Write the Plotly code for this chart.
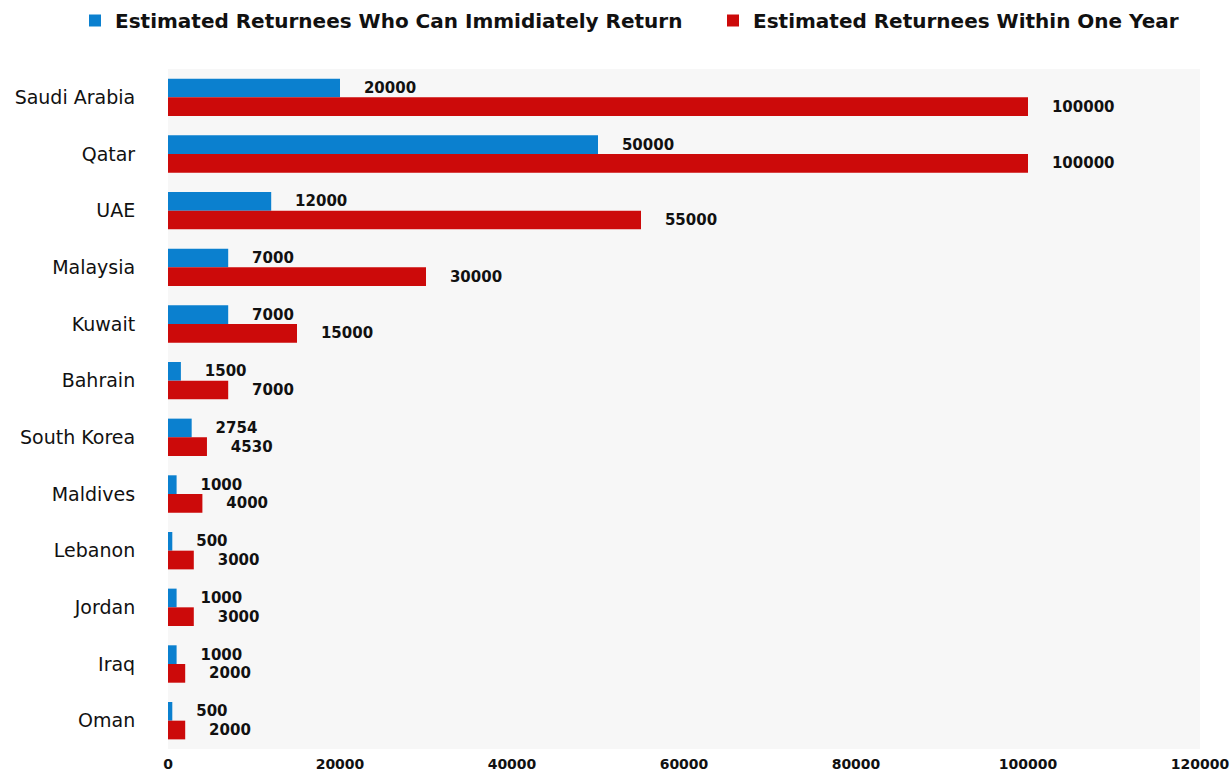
import plotly.graph_objects as go

countries = ["Saudi Arabia", "Qatar", "UAE", "Malaysia", "Kuwait", "Bahrain",
             "South Korea", "Maldives", "Lebanon", "Jordan", "Iraq", "Oman"]
immediate = [20000, 50000, 12000, 7000, 7000, 1500, 2754, 1000, 500, 1000, 1000, 500]
within_year = [100000, 100000, 55000, 30000, 15000, 7000, 4530, 4000, 3000, 3000, 2000, 2000]

BLUE = "#0b80cf"
RED = "#cc0a0a"
FONT = "DejaVu Sans, sans-serif"
PAD = "\u00a0" * 4

def labels(vals):
    return [PAD + str(v) for v in vals]

label_font = dict(family=FONT, size=15, color="#111111", weight="bold")
legend_font = dict(family=FONT, size=20, color="#111111", weight="bold")

fig = go.Figure()
fig.add_trace(go.Bar(
    y=countries, x=immediate, orientation="h", name="Estimated Returnees Who Can Immidiately Return",
    marker=dict(color=BLUE, line=dict(width=0)),
    text=labels(immediate), textposition="outside", cliponaxis=False,
    textfont=label_font, legend="legend", showlegend=True,
))
fig.add_trace(go.Bar(
    y=countries, x=within_year, orientation="h", name="Estimated Returnees Within One Year",
    marker=dict(color=RED, line=dict(width=0)),
    text=labels(within_year), textposition="outside", cliponaxis=False,
    textfont=label_font, legend="legend2", showlegend=True,
))

legend_common = dict(
    orientation="h", xref="container", yref="container", xanchor="left",
    y=1 - 1 / 776, yanchor="top", itemwidth=30, font=legend_font,
    bgcolor="rgba(0,0,0,0)",
)

fig.update_layout(
    width=1231, height=776,
    margin=dict(l=168, r=31, t=69, b=27),
    paper_bgcolor="white",
    plot_bgcolor="#f7f7f7",
    showlegend=True,
    barmode="group",
    bargap=0.34,
    bargroupgap=0,
    font=dict(family=FONT, color="#111111"),
    legend=dict(legend_common, x=75 / 1231),
    legend2=dict(legend_common, x=713 / 1231),
    xaxis=dict(
        range=[0, 120000], dtick=20000, showgrid=False, zeroline=False,
        showline=False, tickformat="d", automargin=False,
        ticklabeloverflow="allow",
        tickfont=dict(family=FONT, size=14, color="#111111", weight="bold"),
        ticks="outside", ticklen=2, tickcolor="rgba(0,0,0,0)",
    ),
    yaxis=dict(
        autorange="reversed", showgrid=False, zeroline=False, showline=False,
        automargin=False,
        tickfont=dict(family=FONT, size=19, color="#111111"),
        ticks="outside", ticklen=28, tickcolor="rgba(0,0,0,0)",
    ),
)

fig.write_html("out.html")
